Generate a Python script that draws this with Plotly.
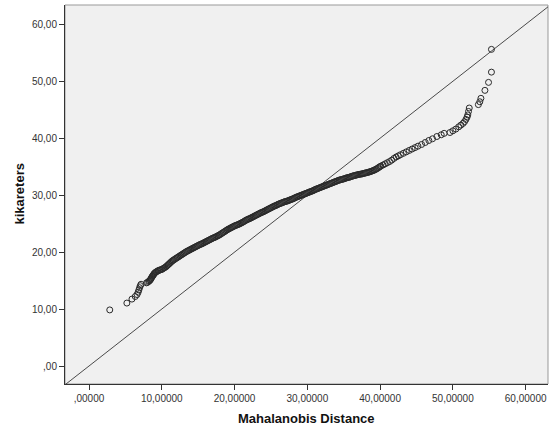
import plotly.graph_objects as go

# Q-Q style points (Mahalanobis Distance vs kikareters)
mahal = [2.85, 5.2, 5.9, 6.35, 6.6, 6.75, 6.85, 6.95, 7.05, 7.15, 7.9, 8.2, 8.4, 8.55, 8.7,
         8.85, 9.0, 9.2, 9.45, 9.7, 10.0, 10.3, 10.6, 10.85, 11.1, 11.35, 11.6, 11.9, 12.2,
         12.5, 12.8, 13.1, 13.4, 13.7, 14.0, 14.3, 14.6, 14.9, 15.2, 15.5, 15.8, 16.1, 16.4,
         16.7, 17.0, 17.3, 17.6, 17.9, 18.2, 18.5, 18.8, 19.1, 19.4, 19.7, 20.0, 20.3, 20.6,
         20.9, 21.2, 21.5, 21.8, 22.1, 22.4, 22.7, 23.0, 23.3, 23.6, 23.9, 24.2, 24.5, 24.8,
         25.1, 25.4, 25.7, 26.0, 26.3, 26.6, 26.9, 27.2, 27.5, 27.8, 28.1, 28.4, 28.7, 29.0,
         29.3, 29.6, 29.9, 30.2, 30.5, 30.8, 31.1, 31.4, 31.7, 32.0, 32.3, 32.6, 32.9, 33.2,
         33.5, 33.8, 34.1, 34.4, 34.7, 35.0, 35.3, 35.6, 35.9, 36.2, 36.5, 36.8, 37.1, 37.4,
         37.7, 38.0, 38.3, 38.6, 38.9, 39.2, 39.5, 39.8, 40.1, 40.4, 40.7, 41.0, 41.3, 41.6,
         41.9, 42.2, 42.5, 42.8, 43.2, 43.6, 44.0, 44.4, 44.8, 45.2, 45.7, 46.2, 46.7, 47.2,
         47.8, 48.4, 48.8, 49.6, 50.0, 50.4, 50.8, 51.1, 51.4, 51.6, 51.8, 51.95, 52.05, 52.15,
         52.25, 53.5, 53.7, 53.85, 54.4, 54.9, 55.3, 55.3]
kikareters = [9.85, 11.05, 11.75, 12.2, 12.55, 12.95, 13.35, 13.75, 14.1, 14.35, 14.6, 14.85,
              15.1, 15.4, 15.75, 16.0, 16.3, 16.5, 16.7, 16.85, 16.95, 17.2, 17.45, 17.75,
              18.05, 18.35, 18.6, 18.85, 19.1, 19.35, 19.6, 19.85, 20.1, 20.3, 20.5, 20.7,
              20.9, 21.1, 21.3, 21.45, 21.65, 21.85, 22.05, 22.25, 22.45, 22.6, 22.8, 23.0,
              23.25, 23.5, 23.75, 24.0, 24.2, 24.4, 24.6, 24.75, 24.9, 25.1, 25.3, 25.55,
              25.75, 25.9, 26.1, 26.3, 26.5, 26.7, 26.9, 27.05, 27.25, 27.45, 27.65, 27.85,
              28.05, 28.2, 28.4, 28.55, 28.7, 28.85, 28.95, 29.1, 29.25, 29.4, 29.6, 29.75,
              29.9, 30.05, 30.2, 30.35, 30.5, 30.65, 30.8, 31.0, 31.15, 31.3, 31.45, 31.6,
              31.75, 31.9, 32.05, 32.2, 32.35, 32.5, 32.65, 32.75, 32.85, 33.0, 33.1, 33.2,
              33.35, 33.45, 33.55, 33.65, 33.7, 33.8, 33.9, 34.0, 34.1, 34.25, 34.4, 34.6,
              34.85, 35.1, 35.3, 35.5, 35.7, 35.9, 36.15, 36.45, 36.7, 36.9, 37.1, 37.35,
              37.6, 37.85, 38.1, 38.35, 38.6, 38.9, 39.25, 39.6, 39.9, 40.3, 40.6, 40.85,
              41.0, 41.3, 41.6, 42.0, 42.3, 42.6, 42.9, 43.3, 43.7, 44.1, 44.7, 45.3, 45.9,
              46.4, 47.0, 48.4, 49.8, 51.6, 55.6]

# Extra points in the dense black band
mahal_dense = [8.05, 8.3, 8.48, 8.62, 8.78, 8.92, 9.1, 9.32, 9.58, 9.85,
               10.15, 10.45, 10.72, 10.98, 11.22, 11.48, 11.75, 12.05, 12.35, 12.65,
               12.95, 13.25, 13.55, 13.85, 14.15, 14.45, 14.75, 15.05, 15.35, 15.65,
               15.95, 16.25, 16.55, 16.85, 17.15, 17.45, 17.75, 18.05, 18.35, 18.65,
               18.95, 19.25, 19.55, 19.85, 20.15, 20.45, 20.75, 21.05, 21.35, 21.65,
               21.95, 22.25, 22.55, 22.85, 23.15, 23.45, 23.75, 24.05, 24.35, 24.65,
               24.95, 25.25, 25.55, 25.85, 26.15, 26.45, 26.75, 27.05, 27.35, 27.65,
               27.95, 28.25, 28.55, 28.85, 29.15, 29.45, 29.75, 30.05, 30.35, 30.65,
               30.95, 31.25, 31.55, 31.85, 32.15, 32.45, 32.75, 33.05, 33.35, 33.65,
               33.95, 34.25, 34.55, 34.85, 35.15, 35.45, 35.75, 36.05, 36.35, 36.65,
               36.95, 37.25, 37.55, 37.85, 38.15, 38.45, 38.75, 39.05, 39.35, 39.65,
               39.95]
kikareters_dense = [14.7, 14.95, 15.25, 15.58, 15.88, 16.15, 16.4, 16.6, 16.78, 16.9,
                    17.08, 17.32, 17.6, 17.9, 18.2, 18.48, 18.72, 18.98, 19.22, 19.48,
                    19.72, 19.98, 20.2, 20.4, 20.6, 20.8, 21.0, 21.2, 21.38, 21.55,
                    21.75, 21.95, 22.15, 22.35, 22.52, 22.7, 22.9, 23.12, 23.38, 23.62,
                    23.88, 24.1, 24.3, 24.5, 24.68, 24.82, 25.0, 25.2, 25.42, 25.65,
                    25.82, 26.0, 26.2, 26.4, 26.6, 26.8, 26.98, 27.15, 27.35, 27.55,
                    27.75, 27.95, 28.12, 28.3, 28.48, 28.62, 28.78, 28.9, 29.02, 29.18,
                    29.32, 29.5, 29.68, 29.82, 29.98, 30.12, 30.28, 30.42, 30.58, 30.72,
                    30.9, 31.08, 31.22, 31.38, 31.52, 31.68, 31.82, 31.98, 32.12, 32.28,
                    32.42, 32.58, 32.7, 32.8, 32.92, 33.05, 33.15, 33.28, 33.4, 33.5,
                    33.6, 33.68, 33.75, 33.85, 33.95, 34.05, 34.18, 34.32, 34.5, 34.72,
                    34.98]

# Reference line y = x
ref_line = [-10, 70]

x_tickvals = [0, 10, 20, 30, 40, 50, 60]
x_ticktext = [",00000", "10,00000", "20,00000", "30,00000", "40,00000", "50,00000", "60,00000"]
y_tickvals = [0, 10, 20, 30, 40, 50, 60]
y_ticktext = [",00", "10,00", "20,00", "30,00", "40,00", "50,00", "60,00"]

x_title = "Mahalanobis Distance"
y_title = "kikareters"

fig = go.Figure()
fig.add_trace(go.Scatter(x=ref_line, y=ref_line, mode="lines",
                         line=dict(color="#4a4a4a", width=1), hoverinfo="skip"))
fig.add_trace(go.Scatter(x=mahal + mahal_dense, y=kikareters + kikareters_dense,
                         mode="markers",
                         marker=dict(symbol="circle-open", size=6, color="#2a2a2a",
                                     line=dict(width=1, color="#2a2a2a"))))

axis_common = dict(showgrid=False, zeroline=False, showline=True, linecolor="#333333",
                   linewidth=1, ticks="outside", ticklen=5, tickcolor="#333333",
                   automargin=False, tickfont=dict(size=10, color="#333333"))

fig.update_layout(
    width=550, height=430,
    margin=dict(l=65, r=2, t=5, b=46),
    paper_bgcolor="white", plot_bgcolor="#f0f0f0",
    showlegend=False,
    font=dict(family="Liberation Sans, Arial, sans-serif", size=10, color="#333333"),
    xaxis=dict(range=[-3.30, 63.07], tickvals=x_tickvals, ticktext=x_ticktext, **axis_common),
    yaxis=dict(range=[-3.16, 63.39], tickvals=y_tickvals, ticktext=y_ticktext, **axis_common),
    shapes=[dict(type="rect", xref="paper", yref="paper", x0=0, y0=0, x1=1, y1=1,
                 line=dict(color="#999999", width=1), layer="below")],
    annotations=[
        dict(text="<b>" + x_title + "</b>", xref="paper", yref="paper", x=0.5, y=0,
             xanchor="center", yanchor="middle", yshift=-34, showarrow=False,
             font=dict(size=13, color="#111111")),
        dict(text="<b>" + y_title + "</b>", xref="paper", yref="paper", x=0, y=0.5,
             xanchor="center", yanchor="middle", xshift=-46, textangle=-90,
             showarrow=False, font=dict(size=13, color="#111111")),
    ],
)

fig.write_html("out.html", config={"displayModeBar": False},
               post_script="document.body.style.margin='0';document.body.style.overflow='hidden';")
